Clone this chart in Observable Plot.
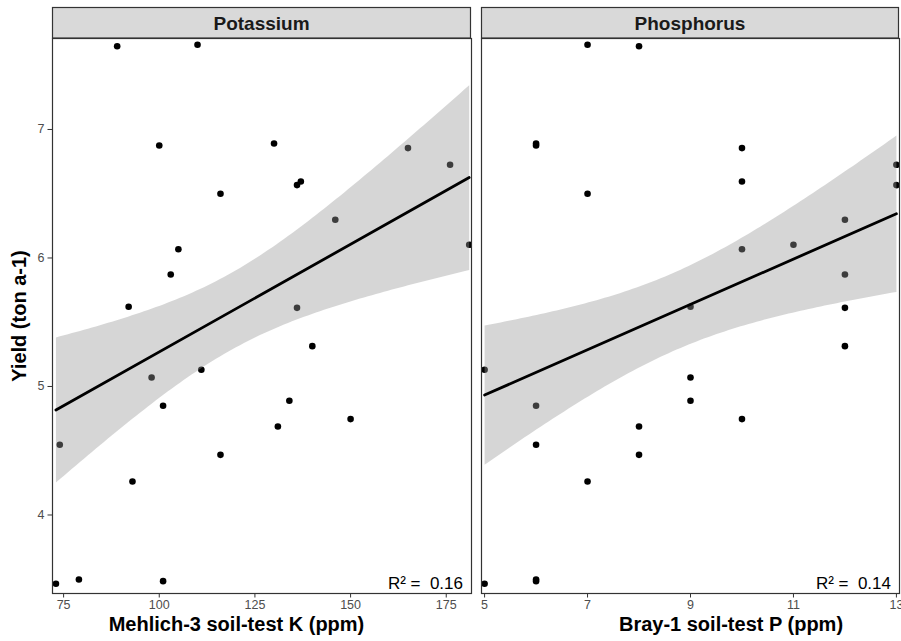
<!DOCTYPE html>
<html>
<head>
<meta charset="utf-8">
<script src="https://cdn.jsdelivr.net/npm/d3@7"></script>
<script src="https://cdn.jsdelivr.net/npm/@observablehq/plot@0.6"></script>
<style>
  html, body { margin: 0; padding: 0; background: #fff; }
  #wrap { position: relative; width: 901px; height: 641px; font-family: "Liberation Sans", Arial, sans-serif; }
  #wrap > svg { position: absolute; top: 0; }
</style>
</head>
<body>
<div id="wrap"></div>
<script>
// ---- data ----
const yieldVals = [7.659, 7.648, 6.891, 6.875, 6.855, 6.725, 6.595, 6.567, 6.5, 6.297, 6.103, 6.068, 5.872, 5.62, 5.612, 5.314, 5.13, 5.07, 4.889, 4.85, 4.746, 4.689, 4.546, 4.468, 4.26, 3.498, 3.485, 3.465];
const kVals = [110, 89, 130, 100, 165, 176, 137, 136, 116, 146, 181, 105, 103, 92, 136, 140, 111, 98, 134, 101, 150, 131, 74, 116, 93, 79, 101, 73];
const pVals = [7, 8, 6, 6, 10, 13, 10, 13, 7, 12, 11, 10, 12, 9, 12, 12, 5, 9, 9, 6, 10, 8, 6, 8, 7, 6, 6, 5];
const panelNames = ["Potassium", "Phosphorus"];
const xTitles = ["Mehlich-3 soil-test K (ppm)", "Bray-1 soil-test P (ppm)"];
const yTitle = "Yield (ton a-1)";
const r2Labels = ["R\u00b2 =  0.16", "R\u00b2 =  0.14"];
const kTicks = [75, 100, 125, 150, 175];
const pTicks = [5, 7, 9, 11, 13];
const yTicks = [4, 5, 6, 7];

const kData = kVals.map((k, i) => ({x: k, y: yieldVals[i]}));
const pData = pVals.map((p, i) => ({x: p, y: yieldVals[i]}));

const FONT = "Liberation Sans, Arial, sans-serif";
const H = 641, MT = 38, MB = 48;
const yDomain = [3.389, 7.708];

function panel({data, xDomain, xTicks, r2, width, ml, mr, yAxis}) {
  const marks = [
    Plot.dot(data, {x: "x", y: "y", r: 3.3, fill: "black", stroke: "none", clip: true}),
    Plot.linearRegressionY(data, {x: "x", y: "y", ci: 0.83, stroke: "black", strokeWidth: 2.8,
      fill: "#999999", fillOpacity: 0.4, clip: true}),
    Plot.text([r2], {frameAnchor: "bottom-right", text: d => d, textAnchor: "end",
      lineAnchor: "bottom", dx: -8.5, dy: -5, fontSize: 17, fill: "black"}),
    Plot.axisX({ticks: xTicks, tickSize: 4.5, tickPadding: 2.5, fontSize: 12.5, label: null,
      stroke: "#333333", fill: "#4D4D4D", tickFormat: d => String(d)}),
    Plot.frame({stroke: "#333333", strokeWidth: 1.2})
  ];
  if (yAxis) marks.push(Plot.axisY({ticks: yTicks, tickSize: 4.5, tickPadding: 3.5, fontSize: 12.5,
      label: null, stroke: "#333333", fill: "#4D4D4D", tickFormat: d => String(d)}));
  return Plot.plot({
    width, height: H,
    marginLeft: ml, marginRight: mr, marginTop: MT, marginBottom: MB,
    style: {fontFamily: FONT, background: "transparent", overflow: "visible"},
    x: {domain: xDomain},
    y: {domain: yDomain, axis: yAxis ? undefined : null},
    marks
  });
}

const wrap = document.getElementById("wrap");
const left = panel({data: kData, xDomain: [72.1, 181.6], xTicks: kTicks, r2: r2Labels[0],
  width: 476, ml: 52, mr: 5, yAxis: true});
left.style.left = "0px";
const right = panel({data: pData, xDomain: [4.94, 13.06], xTicks: pTicks, r2: r2Labels[1],
  width: 425, ml: 5, mr: 2, yAxis: false});
right.style.left = "476px";
wrap.appendChild(left);
wrap.appendChild(right);

// strips and axis titles
const ov = d3.select(wrap).append("svg")
  .attr("width", 901).attr("height", H)
  .style("left", "0px").style("font-family", FONT).style("pointer-events", "none");
const strips = [{x0: 52, x1: 471}, {x0: 481, x1: 899}];
strips.forEach((s, i) => {
  ov.append("rect").attr("x", s.x0 + 0.5).attr("y", 7.5).attr("width", s.x1 - s.x0 - 1).attr("height", 30.5)
    .attr("fill", "#D9D9D9").attr("stroke", "#333333").attr("stroke-width", 1.2);
  ov.append("text").attr("x", (s.x0 + s.x1) / 2).attr("y", 29.5).attr("text-anchor", "middle")
    .attr("font-size", 19).attr("font-weight", "bold").attr("fill", "#1A1A1A").text(panelNames[i]);
});
const titleCenters = [236.5, 731];
xTitles.forEach((t, i) => {
  ov.append("text").attr("x", titleCenters[i]).attr("y", 631).attr("text-anchor", "middle")
    .attr("font-size", 20).attr("font-weight", "bold").attr("fill", "black").text(t);
});
ov.append("text").attr("transform", "translate(26,316) rotate(-90)").attr("text-anchor", "middle")
  .attr("font-size", 20).attr("font-weight", "bold").attr("fill", "black").text(yTitle);
</script>
</body>
</html>
